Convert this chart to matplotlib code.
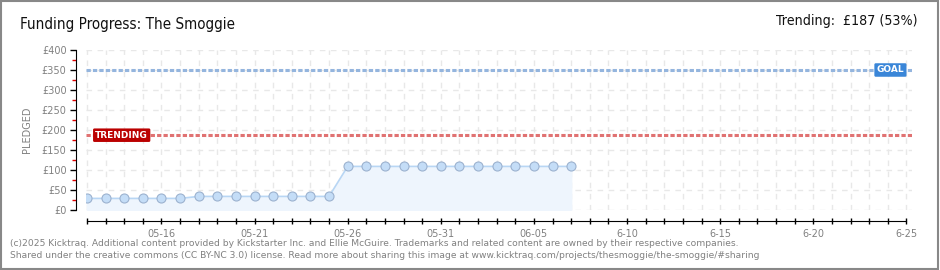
import datetime as dt
import matplotlib
matplotlib.use("Agg")
import matplotlib.pyplot as plt
import matplotlib.dates as mdates
from matplotlib.patches import Rectangle
from matplotlib import font_manager

# daily pledged totals (GBP)
start = dt.date(2025, 5, 12)
pledged = [29, 29, 29, 29, 29, 29,
           34, 34, 34, 34, 34, 34, 34, 34,
           109, 109, 109, 109, 109, 109, 109, 109, 109, 109, 109, 109, 109]
days = [start + dt.timedelta(days=i) for i in range(len(pledged))]

goal = 350
trending = 187
end = dt.date(2025, 6, 25)
tick_labels = {dt.date(2025, 5, 16): "05-16", dt.date(2025, 5, 21): "05-21",
               dt.date(2025, 5, 26): "05-26", dt.date(2025, 5, 31): "05-31",
               dt.date(2025, 6, 5): "06-05", dt.date(2025, 6, 10): "6-10",
               dt.date(2025, 6, 15): "6-15", dt.date(2025, 6, 20): "6-20",
               dt.date(2025, 6, 25): "6-25"}

# pick a narrow face for the heading if one is around
head_font, head_stretch = "Roboto", "normal"
for f in font_manager.fontManager.ttflist:
    if "Narrow" in f.name or "Condensed" in f.name:
        head_font, head_stretch = f.name, "normal"
        break
    if f.stretch in ("condensed", "semi-condensed", 500) or f.stretch == 75:
        head_font, head_stretch = f.name, f.stretch
        break

grey = "#808080"
W, H = 940, 270
fig = plt.figure(figsize=(W / 100, H / 100), dpi=100)
ax = fig.add_axes([86 / W, 1 - 210 / H, 826 / W, 160 / H])

x0 = mdates.date2num(start)
x1 = mdates.date2num(end)
ax.set_xlim(x0 - 0.05, x1 + 0.3)
ax.set_ylim(0, 400)

# grid
for d in range(int(x1 - x0) + 1):
    ax.axvline(x0 + d, color="#e8e8e8", lw=1, ls=(0, (4, 4)), zorder=0)
for v in range(0, 401, 50):
    ax.axhline(v, color="#e8e8e8", lw=1, ls=(0, (4, 4)), zorder=0)

# goal / trending lines
ax.axhline(goal, color="#94b5de", lw=2.2, ls=(0, (1.4, 0.7)), zorder=2)
ax.axhline(trending, color="#e07272", lw=2.2, ls=(0, (1.4, 0.7)), zorder=2)

ax.fill_between(days, pledged, 0, color="#eef5fd", zorder=1)
ax.plot(days, pledged, color="#b8d6f4", lw=1.2, zorder=3)
ax.plot(days, pledged, ls="none", marker="o", ms=6.5, mfc="#c4ddf7",
        mec="#9cb2cf", mew=0.8, zorder=4)

ax.text(x0 + 0.45, trending, "TRENDING", color="white", fontsize=6.5,
        fontweight="bold", va="center", ha="left", zorder=5,
        bbox=dict(boxstyle="round,pad=0.25,rounding_size=0.15", fc="#bb0000", ec="none"))
ax.text(x1 - 1.6, goal, "GOAL", color="white", fontsize=6.5,
        fontweight="bold", va="center", ha="left", zorder=5,
        bbox=dict(boxstyle="round,pad=0.25,rounding_size=0.15", fc="#3a86d8", ec="none"))

# axes styling
for s in ["top", "right"]:
    ax.spines[s].set_visible(False)
ax.spines["left"].set_position(("outward", 7))
ax.spines["bottom"].set_position(("outward", 8))
ax.spines["left"].set_bounds(0, 400)
ax.spines["bottom"].set_bounds(x0, x1)

ax.set_yticks(range(0, 401, 50))
ax.set_yticklabels([f"£{v}" for v in range(0, 401, 50)])
ax.set_yticks(range(25, 400, 50), minor=True)
ax.tick_params(axis="y", which="major", direction="out", length=4, width=1,
               labelsize=7, labelcolor=grey, pad=3)
ax.tick_params(axis="y", which="minor", direction="out", length=3, width=1,
               color="#e00000")

xt = [x0 + d for d in range(int(x1 - x0) + 1)]
ax.set_xticks(xt)
ax.set_xticklabels([tick_labels.get(mdates.num2date(t).date(), "") for t in xt])
ax.tick_params(axis="x", direction="inout", length=5, width=1,
               labelsize=7, labelcolor=grey, pad=3)

ax.set_ylabel("PLEDGED", fontsize=7, color=grey, labelpad=7)

title = fig.text(20 / W, 1 - 24 / H, "Funding Progress: The Smoggie", fontsize=12,
                 family=head_font, fontstretch=head_stretch, fontweight="light",
                 va="center", ha="left", color="#111111")
trend = fig.text(918 / W, 1 - 21 / H, "Trending:  £187 (53%)", fontsize=12,
                 family=head_font, fontstretch=head_stretch, fontweight="light",
                 va="center", ha="right", color="#111111")

# shrink the heading texts to the widths they have in the original
r = fig.canvas.get_renderer()
for t, target in [(title, 215), (trend, 141)]:
    w = t.get_window_extent(r).width
    if w > target:
        t.set_fontsize(t.get_fontsize() * target / w)

fig.text(10 / W, 1 - 243 / H,
         "(c)2025 Kicktraq. Additional content provided by Kickstarter Inc. and Ellie McGuire. "
         "Trademarks and related content are owned by their respective companies.",
         fontsize=6.6, color=grey, va="center", ha="left")
fig.text(10 / W, 1 - 255 / H,
         "Shared under the creative commons (CC BY-NC 3.0) license. Read more about sharing this "
         "image at www.kicktraq.com/projects/thesmoggie/the-smoggie/#sharing",
         fontsize=6.6, color=grey, va="center", ha="left")

fig.patches.append(Rectangle((0.001, 0.003), 0.997, 0.994, transform=fig.transFigure,
                             fill=False, ec="#888888", lw=1.5))

fig.savefig("out.png", dpi=100)
